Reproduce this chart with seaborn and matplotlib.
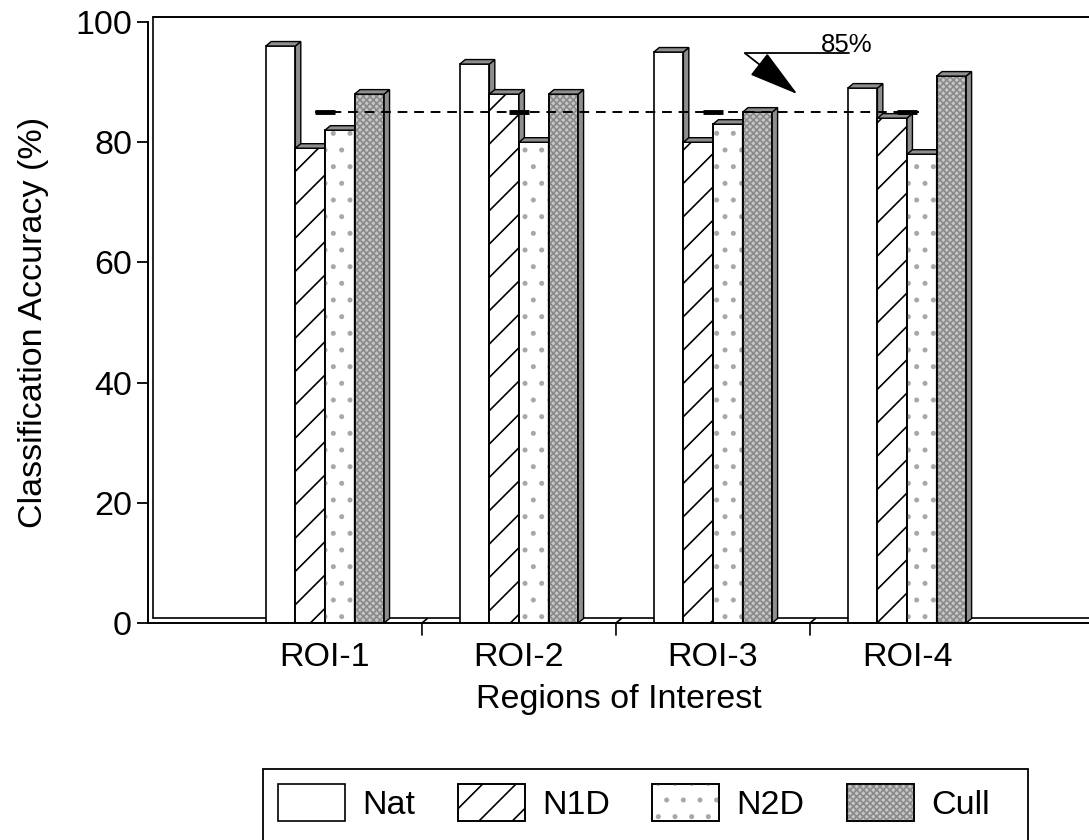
import matplotlib
matplotlib.use("Agg")
import matplotlib.pyplot as plt
from matplotlib.patches import Polygon, Rectangle, Patch
import numpy as np
import pandas as pd
import seaborn as sns

# ---- data -------------------------------------------------------------
regions = ["ROI-1", "ROI-2", "ROI-3", "ROI-4"]
methods = ["Nat", "N1D", "N2D", "Cull"]
nat = [96, 93, 95, 89]
n1d = [79, 88, 80, 84]
n2d = [82, 80, 83, 78]
cull = [88, 88, 85, 91]
target = 85
yticks = [0, 20, 40, 60, 80, 100]

df = pd.DataFrame({
    "region": np.repeat(regions, len(methods)),
    "method": methods * len(regions),
    "accuracy": np.ravel(np.column_stack([nat, n1d, n2d, cull])),
})

# ---- style ------------------------------------------------------------
sns.set_style("white")
plt.rcParams["font.family"] = ["Liberation Sans", "DejaVu Sans"]
plt.rcParams["text.color"] = "black"
plt.rcParams["axes.labelcolor"] = "black"
plt.rcParams["hatch.linewidth"] = 1.2
FS = 24.5

front_colors = {"Nat": "white", "N1D": "white", "N2D": "white", "Cull": "#c6c6c6"}
hatches = {"Nat": None, "N1D": "/", "N2D": ".", "Cull": "xxxxx"}
hatch_colors = {"Nat": "black", "N1D": "black", "N2D": "#a8a8a8", "Cull": "#8a8a8a"}
face3d = "#8e8e8e"

fig = plt.figure(figsize=(10.89, 8.4), dpi=100)
ax = fig.add_axes([148 / 1089, 1 - 623 / 840, 1 - 148 / 1089, (623 - 22) / 840])

sns.barplot(data=df, x="region", y="accuracy", hue="method",
            hue_order=methods, order=regions, palette=front_colors,
            saturation=1, width=0.61, gap=0, edgecolor="black",
            linewidth=1.2, legend=False, ax=ax)

xmin, xmax = -0.912, 3.938
ax.set_xlim(xmin, xmax)
ax.set_ylim(0, 100)

# pseudo-3D depth (data units)
dx, dy = 0.028, 0.75

for k, (m, cont) in enumerate(zip(methods, ax.containers)):
    base_z = 2 + k * 0.1
    for bar in cont.patches:
        x0, w, h = bar.get_x(), bar.get_width(), bar.get_height()
        bar.set_zorder(base_z)
        if hatches[m]:
            ax.add_patch(Rectangle((x0, 0), w, h, facecolor="none",
                                   edgecolor=hatch_colors[m], lw=0,
                                   hatch=hatches[m], zorder=base_z + 0.01))
            ax.add_patch(Rectangle((x0, 0), w, h, facecolor="none",
                                   edgecolor="black", lw=1.2,
                                   zorder=base_z + 0.02))
        side = Polygon([(x0 + w, 0), (x0 + w + dx, dy), (x0 + w + dx, h + dy),
                        (x0 + w, h)], closed=True, facecolor=face3d,
                       edgecolor="black", lw=1.0, zorder=base_z + 0.03)
        top = Polygon([(x0, h), (x0 + w, h), (x0 + w + dx, h + dy),
                       (x0 + dx, h + dy)], closed=True, facecolor=face3d,
                      edgecolor="black", lw=1.0, zorder=base_z + 0.03)
        ax.add_patch(side)
        ax.add_patch(top)

# back walls of the box
ax.plot([xmin + dx, xmin + dx], [dy, 100 + dy], color="black", lw=1.2,
        clip_on=False, zorder=1)
ax.plot([xmin + dx, xmax], [100 + dy, 100 + dy], color="black", lw=1.4,
        clip_on=False, zorder=1)
ax.plot([xmin + dx, xmax], [dy, dy], color="black", lw=1.2,
        clip_on=False, zorder=1)

# group separators on the floor
for b in np.arange(len(regions) - 1) + 0.5:
    ax.plot([b + dx, b, b], [dy, 0, -2.0], color="black", lw=1.2,
            clip_on=False, zorder=1)

# 85 % reference line with markers at each group
centers = np.arange(len(regions))
ax.plot([centers[0] - 0.05, centers[-1] + 0.06], [target, target],
        color="black", lw=1.4, linestyle=(0, (5, 3.5)), zorder=5)
for c in centers:
    ax.plot([c - 0.05, c + 0.05], [target, target], color="black", lw=3.5,
            solid_capstyle="butt", zorder=5)

# callout for the reference line
ax.plot([2.165, 2.70], [target + 9.8, target + 9.8], color="black", lw=1.3,
        zorder=6)
ax.annotate("", xy=(2.435, target + 3.0), xytext=(2.165, target + 9.8),
            arrowprops=dict(arrowstyle="-|>,head_length=1.45,head_width=0.4",
                            color="black", lw=1.3, mutation_scale=22,
                            shrinkA=0, shrinkB=0), zorder=6)
ax.text(2.555, target + 10.0, f"{target}%", fontsize=18.5, ha="left",
        va="baseline", zorder=6)

# axes
sns.despine(ax=ax, top=True, right=True)
for s in ("left", "bottom"):
    ax.spines[s].set_linewidth(1.4)
    ax.spines[s].set_color("black")
ax.set_yticks(yticks)
ax.set_yticklabels([str(t) for t in yticks])
ax.tick_params(axis="y", direction="out", length=8, width=1.3, pad=3.5,
               labelsize=FS, colors="black", left=True)
ax.tick_params(axis="x", length=0, pad=13.5, labelsize=FS, colors="black")
ax.set_xlabel("Regions of Interest", fontsize=FS, labelpad=8)
ax.set_ylabel("Classification Accuracy (%)", fontsize=FS, labelpad=19)
ax.grid(False)

# legend
handles = []
for m in methods:
    base = Patch(facecolor=front_colors[m], edgecolor="black", lw=1.2)
    if hatches[m]:
        overlay = Patch(facecolor="none", edgecolor=hatch_colors[m], lw=0,
                        hatch=hatches[m])
        outline = Patch(facecolor="none", edgecolor="black", lw=1.2)
        handles.append((base, overlay, outline))
    else:
        handles.append(base)
leg = fig.legend(handles, methods, loc="upper left",
                 bbox_to_anchor=(263 / 1089, 1 - 769 / 840), ncol=4,
                 fontsize=FS, frameon=False,
                 handlelength=1.97, handleheight=1.3, handletextpad=0.5,
                 columnspacing=1.25, borderpad=0.45, borderaxespad=0)

# legend box, running past the lower edge of the figure
fig.add_artist(Rectangle((263 / 1089, -0.05), (1028 - 263) / 1089,
                         1 - 769 / 840 + 0.05, transform=fig.transFigure,
                         fill=False, edgecolor="black", lw=1.3))

fig.savefig("out.png", dpi=100, facecolor="white")
